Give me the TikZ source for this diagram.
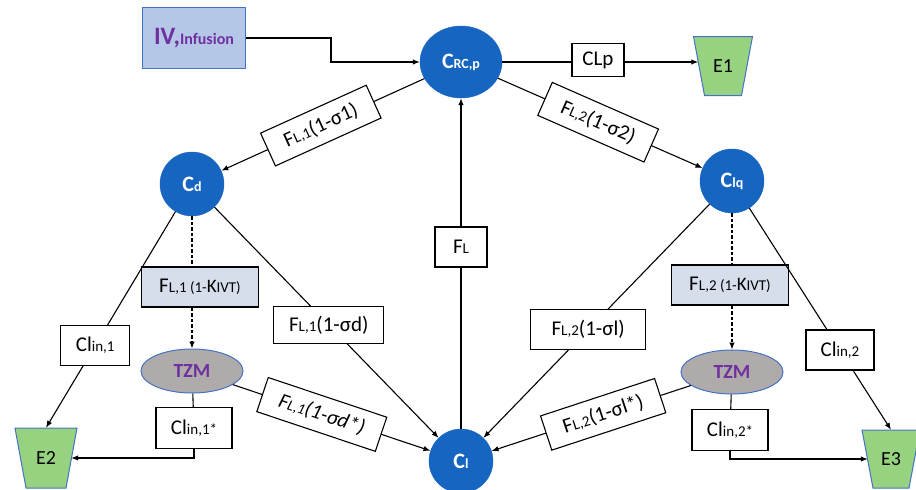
\documentclass[tikz,border=0pt]{standalone}
\usepackage{fontspec}
\setmainfont{Carlito}
\usetikzlibrary{shapes.geometric,arrows.meta,calc}
\definecolor{cblue}{RGB}{22,101,192}
\definecolor{bblue}{RGB}{68,114,196}
\definecolor{ivfill}{RGB}{180,199,231}
\definecolor{egreen}{RGB}{150,210,128}
\definecolor{tzmgray}{RGB}{175,171,171}
\definecolor{kfill}{RGB}{214,222,236}
\definecolor{vpurple}{RGB}{112,48,160}
\newcommand{\sm}[1]{{\fontsize{15}{15}\selectfont #1}}
\newcommand{\csub}[1]{{\fontsize{14}{14}\selectfont #1}}
\newcommand{\etrap}[6]{%
  \path[ebody] ({#2-#4/2},{#3-#5/2}) -- ({#2+#4/2},{#3-#5/2}) -- ({#2+#4/2-11},{#3+#5/2})
    -- ({#2-#4/2+11},{#3+#5/2}) -- cycle;
  \node[etext, minimum width=#4pt, minimum height=#5pt] (#1) at (#2,#3) {#6};}
\begin{document}
\begin{tikzpicture}[x=1pt,y=-1pt,
  >={Latex[length=7pt,width=5.5pt]},
  conn/.style={line width=1.1pt, black},
  dconn/.style={conn, dash pattern=on 3.5pt off 2pt},
  bigc/.style={circle, fill=cblue, draw=cblue, text=white, minimum size=64pt, inner sep=0pt,
    font=\fontsize{22}{24}\selectfont\bfseries},
  lbl/.style={draw=black, fill=white, line width=1.1pt, inner xsep=6pt, inner ysep=0pt,
    minimum height=36pt, font=\fontsize{21}{24}\selectfont},
  kbox/.style={lbl, fill=kfill, minimum width=117pt, minimum height=40pt},
  tzmnode/.style={ellipse, fill=tzmgray, draw=bblue, line width=1pt, minimum width=102pt,
    minimum height=44pt, inner sep=0pt, text=vpurple, font=\fontsize{20}{22}\selectfont\bfseries},
  ebody/.style={fill=egreen, draw=bblue, line width=1pt},
  etext/.style={rectangle, inner sep=0pt, font=\fontsize{20}{22}\selectfont},
  ivbox/.style={rectangle, fill=ivfill, draw=bblue, line width=1pt, minimum width=103pt,
    minimum height=61pt, text=vpurple}
]
\useasboundingbox (0,0) rectangle (916,490);

% main nodes
\node[ivbox] (iv) at (194,38) {{\fontsize{25}{27}\selectfont\bfseries IV,}{\fontsize{16}{18}\selectfont\bfseries Infusion}};
\node[bigc, ellipse, minimum width=82pt, minimum height=72pt] (crc) at (461,62) {C\csub{RC,p}};
\node[lbl, minimum height=33pt, minimum width=52pt] (clp) at (598,60) {CLp};
\etrap{e1}{723}{66}{59}{59}{E1}
\node[bigc] (cd) at (192,184) {C\csub{d}};
\node[bigc] (clq) at (732,181) {C\csub{lq}};
\node[bigc] (cl) at (461,461) {C\csub{l}};
\node[kbox] (k1) at (200,287) {F\sm{L,1 (1-}{\fontsize{19}{22}\selectfont K}\sm{IVT)}};
\node[kbox] (k2) at (730,285) {F\sm{L,2 (1-}{\fontsize{19}{22}\selectfont K}\sm{IVT)}};
\node[tzmnode] (tzm1) at (192,371) {TZM};
\node[tzmnode] (tzm2) at (732,372) {TZM};
\node[lbl, minimum height=41pt, minimum width=76pt] (clin1s) at (194,428) {Cl\sm{in,1*}};
\node[lbl, minimum height=41pt, minimum width=76pt] (clin2s) at (730,430) {Cl\sm{in,2*}};
\etrap{e2}{46}{458}{62}{60}{E2}
\etrap{e3}{891}{459}{58}{58}{E3}
\coordinate (e1in) at ([xshift=5pt]e1.west);
\coordinate (e2in) at ([xshift=-6pt]e2.east);
\coordinate (e3in) at ([xshift=6pt]e3.west);

% infusion
\draw[conn,->] (iv.east) -- ++(85,0) |- (crc);
% clearance plasma
\draw[conn] (crc.east) -- (clp.west |- crc.east);
\draw[conn,->] (clp.east |- crc.east) -- (e1in |- crc.east);

% flows from central
\draw[conn,->] (crc) -- node[lbl, sloped, pos=0.51, minimum width=116pt] {F\sm{L,1}(1-σ1)} (cd);
\draw[conn,->] (crc) -- node[lbl, sloped, pos=0.49, minimum width=116pt] {F\sm{L,2}(1-σ2)} (clq);
\draw[conn,->] (cl) -- node[lbl, pos=0.55, minimum width=52pt, minimum height=40pt] {F\sm{L}} (crc);

% to lymph
\draw[conn,->] (cd) -- node[lbl, pos=0.51, minimum width=110pt, minimum height=37pt] {F\sm{L,1}(1-σd)} (cl);
\draw[conn,->] (clq) -- node[lbl, pos=0.537, minimum width=115pt, minimum height=40pt] {F\sm{L,2}(1-σl)} (cl);

% elimination interstitial
\draw[conn,->] (cd) -- node[lbl, pos=0.62, minimum width=69pt, minimum height=40pt] {Cl\sm{in,1}} (e2.north);
\draw[conn,->] (clq) -- node[lbl, pos=0.64, minimum width=68pt, minimum height=40pt] {Cl\sm{in,2}} (e3.north);

% dashed to TZM
\draw[dconn] (cd) -- (cd |- k1.north);
\draw[dconn,->] (k1.south -| cd) -- (tzm1);
\draw[dconn] (clq) -- (clq |- k2.north);
\draw[dconn,->] (k2.south -| clq) -- (tzm2);

% TZM to lymph
\draw[conn,->] (tzm1) -- node[lbl, sloped, pos=0.45, minimum width=125pt] {\itshape F\sm{L,1}(1-σd*)} (cl);
\draw[conn,->] (tzm2) -- node[lbl, sloped, pos=0.44, minimum width=120pt] {F\sm{L,2}(1-σl*)} (cl);

% TZM clearance
\draw[conn] (tzm1) -- (clin1s);
\draw[conn,->] (clin1s.south) |- (e2in);
\draw[conn] (tzm2) -- (clin2s);
\draw[conn,->] (clin2s.south) |- (e3in);
\end{tikzpicture}
\end{document}
